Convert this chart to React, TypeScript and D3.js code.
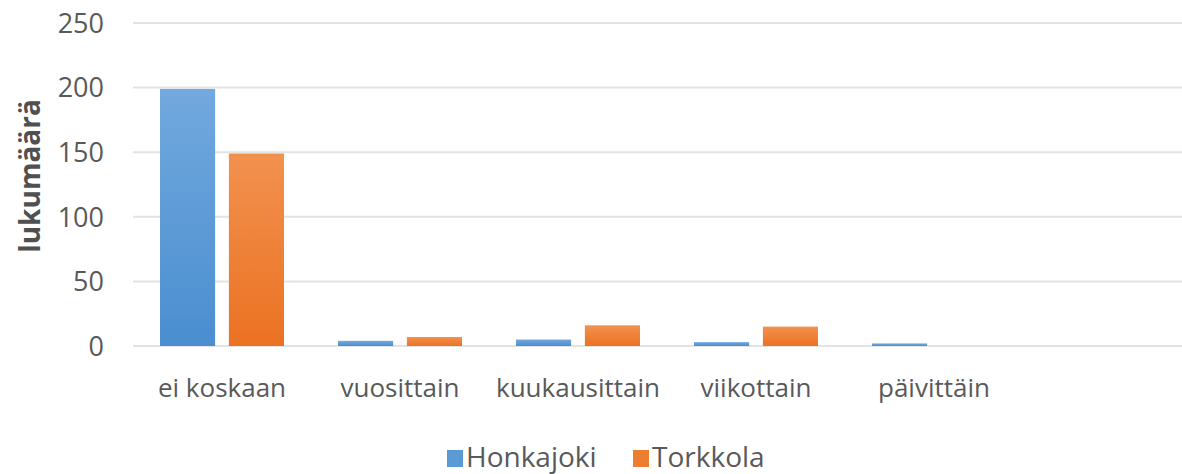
import React from "react";
import * as d3 from "d3";

const categories = ["ei koskaan", "vuosittain", "kuukausittain", "viikottain", "päivittäin"];
const seriesNames = ["Honkajoki", "Torkkola"];
const honkajoki = [199, 4, 5, 3, 2];
const torkkola = [149, 7, 16, 15, 0];
const yTicks = [0, 50, 100, 150, 200, 250];
const yTitle = "lukumäärä";

const W = 1182;
const H = 474;
const FONT = "'Open Sans', 'Liberation Sans', sans-serif";

export default function App() {
  const x = d3.scaleBand<string>().domain(categories).range([133, 133 + 178 * 5]).paddingInner(0).paddingOuter(0);
  const xs = d3.scaleBand<string>().domain(seriesNames).range([27, 151]).paddingInner(0.2).paddingOuter(0);
  const y = d3.scaleLinear().domain([0, 250]).range([346, 23]);
  const values = [honkajoki, torkkola];
  const grads = ["gBlue", "gOrange"];
  const legendColors = ["#5b9bd5", "#ed7d31"];

  return (
    <svg width={W} height={H} style={{ position: "absolute", left: 0, top: 0, background: "#fff" }}>
      <defs>
        <linearGradient id="gBlue" x1="0" y1="0" x2="0" y2="1">
          <stop offset="0%" stopColor="#72a9de" />
          <stop offset="100%" stopColor="#4a8ed0" />
        </linearGradient>
        <linearGradient id="gOrange" x1="0" y1="0" x2="0" y2="1">
          <stop offset="0%" stopColor="#f2914f" />
          <stop offset="100%" stopColor="#eb7222" />
        </linearGradient>
      </defs>
      {yTicks.map((t) => (
        <g key={t}>
          <line x1={133} x2={W} y1={y(t)} y2={y(t)} stroke="#e3e3e3" strokeWidth={2} />
          <text x={104} y={y(t)} dy="0.36em" textAnchor="end" fontFamily={FONT} fontSize={27} fill="#595959">
            {t}
          </text>
        </g>
      ))}
      {categories.map((c, i) => (
        <g key={c}>
          {seriesNames.map((s, k) => {
            const v = values[k][i];
            if (v <= 0) return null;
            return (
              <rect
                key={s}
                x={(x(c) ?? 0) + (xs(s) ?? 0)}
                y={y(v)}
                width={xs.bandwidth()}
                height={y(0) - y(v)}
                fill={`url(#${grads[k]})`}
              />
            );
          })}
          <text
            x={(x(c) ?? 0) + x.bandwidth() / 2}
            y={397}
            textAnchor="middle"
            fontFamily={FONT}
            fontSize={26}
            fill="#595959"
          >
            {c}
          </text>
        </g>
      ))}
      <text
        transform="translate(40,176) rotate(-90)"
        textAnchor="middle"
        fontFamily={FONT}
        fontSize={28}
        fontWeight="bold"
        fill="#505050"
      >
        {yTitle}
      </text>
      {seriesNames.map((s, k) => {
        const lx = k === 0 ? 447 : 633;
        return (
          <g key={s}>
            <rect x={lx} y={450} width={16} height={17} fill={legendColors[k]} />
            <text x={lx + 19} y={467} fontFamily={FONT} fontSize={28} fill="#595959">
              {s}
            </text>
          </g>
        );
      })}
    </svg>
  );
}
